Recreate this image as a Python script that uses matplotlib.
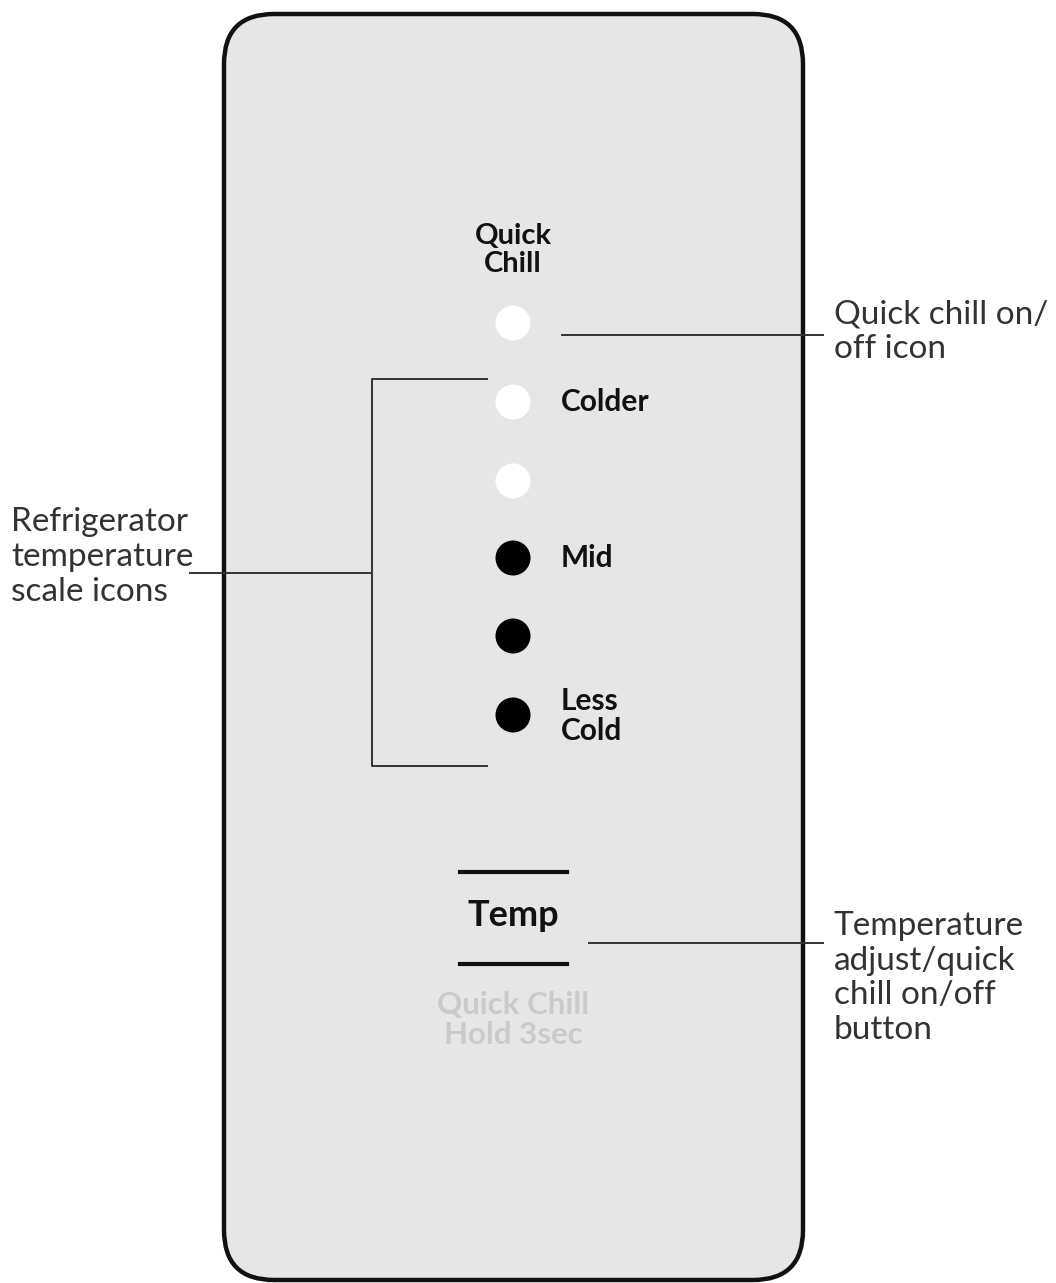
import matplotlib
matplotlib.use("Agg")
import matplotlib.pyplot as plt
from matplotlib.patches import FancyBboxPatch, Circle

# Indicator dots (y in pixel coords of the panel), and whether they are lit
dot_y = [323, 402, 481, 558, 636, 715]
dot_lit = [False, False, False, True, True, True]
dot_x = 513

# Labels beside the dots
scale_labels = ["Colder", "Mid", "Less\nCold"]
scale_label_y = [402, 558, 716]

# Callout texts
callouts = ["Quick chill on/\noff icon",
            "Refrigerator\ntemperature\nscale icons",
            "Temperature\nadjust/quick\nchill on/off\nbutton"]

W, H = 1056, 1283
fig = plt.figure(figsize=(W / 100, H / 100), dpi=100)
ax = fig.add_axes([0, 0, 1, 1])
ax.set_xlim(0, W)
ax.set_ylim(H, 0)
ax.axis('off')

# Panel
panel = FancyBboxPatch((224 + 50, 14 + 50), 579 - 100, 1266 - 100,
                       boxstyle="round,pad=50",
                       facecolor='#e6e6e6', edgecolor='#111111',
                       linewidth=3.2)
ax.add_patch(panel)

bold = dict(family=['Lato', 'DejaVu Sans'], fontweight='bold', color='#111111')
light = dict(family=['Lato', 'DejaVu Sans'], color='#333333')

ax.text(dot_x, 250, "Quick\nChill", ha='center', va='center',
        fontsize=21, linespacing=1.12, **bold)

for y, lit in zip(dot_y, dot_lit):
    ax.add_patch(Circle((dot_x, y), 17.5,
                        facecolor='#000000' if lit else '#ffffff',
                        edgecolor='none'))

for lab, y in zip(scale_labels, scale_label_y):
    ax.text(561, y, lab, ha='left', va='center', fontsize=21.5,
            linespacing=1.05, **bold)

# Temp button
ax.plot([460, 567], [872, 872], color='#111111', lw=3)
ax.plot([460, 567], [964, 964], color='#111111', lw=3)
ax.text(513, 916, "Temp", ha='center', va='center', fontsize=26, **bold)
ax.text(513, 1020, "Quick Chill\nHold 3sec", ha='center', va='center',
        fontsize=22.5, linespacing=1.08, family=['Lato', 'DejaVu Sans'],
        fontweight='bold', color='#cacaca')

# Leader lines
lc = dict(color='#333333', lw=1.4)
ax.plot([562, 823], [335, 335], **lc)
ax.plot([589, 823], [943, 943], **lc)
ax.plot([487, 372, 372, 487], [379, 379, 766, 766], **lc)
ax.plot([190, 372], [573, 573], **lc)

# Callout texts
ax.text(834, 332, callouts[0], ha='left', va='center', fontsize=24,
        linespacing=1.2, **light)
ax.text(11, 557, callouts[1], ha='left', va='center', fontsize=24,
        linespacing=1.2, **light)
ax.text(834, 978, callouts[2], ha='left', va='center', fontsize=24,
        linespacing=1.2, **light)

fig.savefig("out.png", dpi=100, facecolor='white')
